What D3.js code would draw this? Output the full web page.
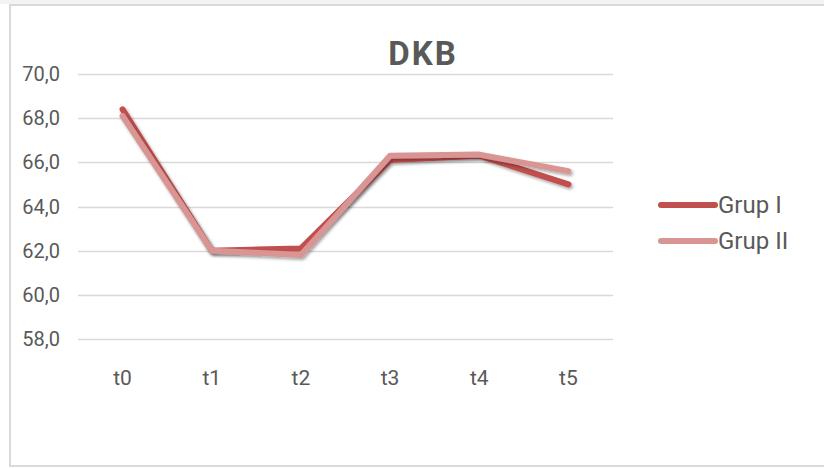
<!DOCTYPE html>
<html>
<head>
<meta charset="utf-8">
<script src="https://cdn.jsdelivr.net/npm/d3@7"></script>
<style>
  body { margin: 0; background: #fff; }
  text { font-family: "Liberation Sans Narrow", "Roboto", sans-serif; }
</style>
</head>
<body>
<div id="viz"></div>
<script>
var categories = ['t0', 't1', 't2', 't3', 't4', 't5'];
var grup1 = [68.4, 62.0, 62.1, 66.1, 66.3, 65.0];
var grup2 = [68.1, 62.0, 61.8, 66.3, 66.35, 65.6];
var yTicks = [58, 60, 62, 64, 66, 68, 70];
var seriesNames = ['Grup I', 'Grup II'];
var seriesColors = ['#C0504D', '#D99594'];

var width = 824,
    height = 468;

var svg = d3.select('#viz').append('svg')
    .attr('width', width)
    .attr('height', height);

// faint strip above the frame
svg.append('rect')
    .attr('x', 0).attr('y', 0)
    .attr('width', width).attr('height', 4)
    .attr('fill', '#f3f3f3');

// chart frame
svg.append('rect')
    .attr('x', 10).attr('y', 5)
    .attr('width', 830).attr('height', 461)
    .attr('fill', '#fff')
    .attr('stroke', '#d9d9d9')
    .attr('stroke-width', 2);

var xScale = d3.scaleBand()
    .domain(categories)
    .range([78, 613]);

var yScale = d3.scaleLinear()
    .domain([58, 70])
    .range([339, 74]);

// gridlines
svg.selectAll('.grid').data(yTicks)
    .enter().append('line')
    .attr('x1', 78).attr('x2', 613)
    .attr('y1', function(d) { return Math.round(yScale(d)) + 0.5; })
    .attr('y2', function(d) { return Math.round(yScale(d)) + 0.5; })
    .attr('stroke', '#d9d9d9')
    .attr('stroke-width', 1.3);

// y labels
svg.selectAll('.ylab').data(yTicks)
    .enter().append('text')
    .attr('x', 60)
    .attr('y', function(d) { return yScale(d) + 7; })
    .attr('text-anchor', 'end')
    .attr('fill', '#595959')
    .style('font-size', '20px')
    .text(function(d) { return d.toFixed(1).replace('.', ','); });

// x labels
svg.selectAll('.xlab').data(categories)
    .enter().append('text')
    .attr('x', function(d) { return xScale(d) + xScale.bandwidth() / 2; })
    .attr('y', 385)
    .attr('text-anchor', 'middle')
    .attr('fill', '#595959')
    .style('font-size', '21px')
    .text(function(d) { return d; });

// title
svg.append('text')
    .attr('x', 423).attr('y', 65)
    .attr('text-anchor', 'middle')
    .attr('fill', '#595959')
    .style('font-size', '33px')
    .style('font-weight', 'bold')
    .style('letter-spacing', '2px')
    .text('DKB');

var defs = svg.append('defs');
var filter = defs.append('filter').attr('id', 'shadow')
    .attr('x', '-10%').attr('y', '-10%').attr('width', '120%').attr('height', '130%');
filter.append('feDropShadow')
    .attr('dx', 1.5).attr('dy', 2)
    .attr('stdDeviation', 1.5)
    .attr('flood-color', '#000')
    .attr('flood-opacity', 0.35);

var line = d3.line()
    .x(function(d, i) { return xScale(categories[i]) + xScale.bandwidth() / 2; })
    .y(function(d) { return yScale(d); });

[grup1, grup2].forEach(function(s, i) {
    svg.append('path')
        .datum(s)
        .attr('d', line)
        .attr('fill', 'none')
        .attr('stroke', seriesColors[i])
        .attr('stroke-width', 6)
        .attr('stroke-linecap', 'round')
        .attr('stroke-linejoin', 'round')
        .attr('filter', 'url(#shadow)');
});

// legend
var legend = svg.selectAll('.legend').data(seriesNames)
    .enter().append('g')
    .attr('transform', function(d, i) { return 'translate(661,' + (205 + i * 36) + ')'; });

legend.append('line')
    .attr('x1', 0).attr('x2', 54)
    .attr('stroke', function(d, i) { return seriesColors[i]; })
    .attr('stroke-width', 6)
    .attr('stroke-linecap', 'round');

legend.append('text')
    .attr('x', 57).attr('y', 8)
    .attr('fill', '#595959')
    .style('font-size', '24px')
    .text(function(d) { return d; });
</script>
</body>
</html>
